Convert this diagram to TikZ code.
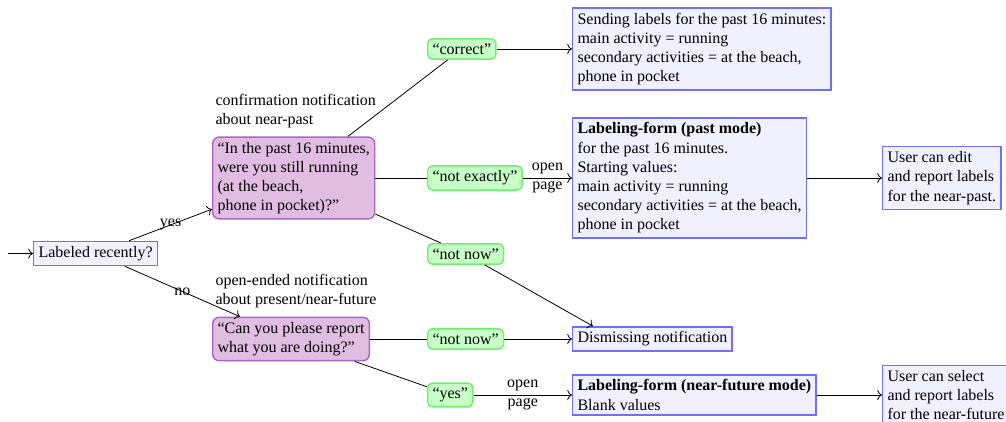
\documentclass[tikz,border=0pt]{standalone}
\usepackage{fontspec}
\setmainfont{Liberation Serif}
\usetikzlibrary{arrows.meta}
\definecolor{bfill}{RGB}{240,240,255}
\definecolor{bdraw}{RGB}{110,110,255}
\definecolor{pfill}{RGB}{225,190,225}
\definecolor{pdraw}{RGB}{170,100,200}
\definecolor{gfill}{RGB}{200,255,200}
\definecolor{gdraw}{RGB}{110,240,110}
\begin{document}
\begin{tikzpicture}[x=0.625pt,y=-0.625pt,
  font=\fontsize{10}{12}\selectfont,
  bluebox/.style={draw=bdraw,fill=bfill,line width=0.9pt,align=left,anchor=west,inner sep=3pt},
  purpbox/.style={draw=pdraw,fill=pfill,line width=0.9pt,rounded corners=4pt,align=left,anchor=west,inner sep=3pt},
  greenbox/.style={draw=gdraw,fill=gfill,line width=0.9pt,rounded corners=3pt,anchor=west,inner sep=3pt},
  note/.style={align=left,anchor=south west,inner sep=2pt},
  conn/.style={draw=black,line width=0.5pt},
  arr/.style={conn,-{To[length=3pt]}},
  elabel/.style={midway,align=center,inner sep=1pt}]
\useasboundingbox (0,0) rectangle (1006,422);
\coordinate (start) at (8,253.5);
\node[bluebox] (lr) at (33,253.5) {Labeled recently?};
\node[purpbox] (p1) at (212,178) {“In the past 16 minutes,\\were you still running\\(at the beach,\\phone in pocket)?”};
\node[note] (p1n) at ([yshift=3pt]p1.north west) {confirmation notification\\about near-past};
\node[purpbox] (p2) at (212,339) {“Can you please report\\what you are doing?”};
\node[note] (p2n) at ([yshift=3pt]p2.north west) {open-ended notification\\about present/near-future};
\node[greenbox] (ok) at (427,49) {“correct”};
\node[greenbox] (nex) at (427,178) {“not exactly”};
\node[greenbox] (nn1) at (427,254) {“not now”};
\node[greenbox] (nn2) at (427,339) {“not now”};
\node[greenbox] (yes) at (427,395) {“yes”};
\node[bluebox] (send) at (572,49) {Sending labels for the past 16 minutes:\\main activity = running\\secondary activities = at the beach,\\phone in pocket};
\node[bluebox] (fpast) at (572,178) {\textbf{Labeling-form (past mode)}\\for the past 16 minutes.\\Starting values:\\main activity = running\\secondary activities = at the beach,\\phone in pocket};
\node[bluebox] (dis) at (572,339) {Dismissing notification};
\node[bluebox] (ffut) at (572,395) {\textbf{Labeling-form (near-future mode)}\\Blank values};
\node[bluebox] (edit) at (882,178) {User can edit\\and report labels\\for the near-past.};
\node[bluebox] (sel) at (882,395) {User can select\\and report labels\\for the near-future};
\draw[arr] (start) -- (lr);
\draw[arr] (lr) -- node[elabel]{yes} (p1);
\draw[arr] (lr) -- node[elabel]{no} (p2);
\draw[conn] (p1) -- (ok);
\draw[conn] (p1) -- (nex);
\draw[conn] (p1) -- (nn1);
\draw[conn] (p2) -- (nn2);
\draw[conn] (p2) -- (yes);
\draw[arr] (ok) -- (send);
\draw[arr] (nex) -- node[elabel]{open\\page} (fpast);
\draw[arr] (nn1) -- ([xshift=13pt]dis.north west);
\draw[arr] (nn2) -- (dis);
\draw[arr] (yes) -- node[elabel]{open\\page} (ffut);
\draw[arr] (fpast) -- (edit);
\draw[arr] (ffut) -- (sel);
\end{tikzpicture}
\end{document}
